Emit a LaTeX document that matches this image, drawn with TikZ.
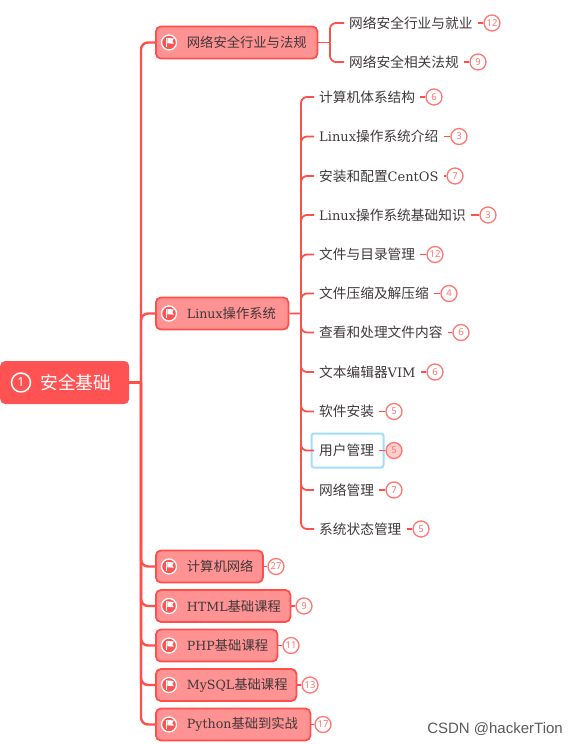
\documentclass[tikz,border=0pt]{standalone}
\usepackage{fontspec}
\setmainfont{DejaVu Serif}[Scale=0.95]
\newfontfamily\zhfont{Noto Sans CJK SC}
\newfontfamily\digfont{Noto Sans}
\newfontfamily\wmfont{Liberation Sans}
\newcommand{\zh}[1]{{\zhfont #1}}
\definecolor{mmred}{HTML}{FF4F4B}
\definecolor{mmfill}{HTML}{FF9292}
\definecolor{mmroot}{HTML}{FF5252}
\definecolor{mmtext}{HTML}{3E383B}
\definecolor{mmsel}{HTML}{9FDFFA}
\definecolor{mmbadge}{HTML}{FF7672}
\tikzset{
  branch/.style={draw=mmred,line width=1.8pt,rounded corners=6pt},
  mainbranch/.style={draw=mmred,line width=2.4pt,rounded corners=7pt},
  stub/.style={draw=mmred,line width=1.5pt},
  mainbox/.style={draw=mmred,fill=mmfill,line width=1.8pt,rounded corners=5pt,inner xsep=0pt,inner ysep=0pt,
    minimum height=32pt,anchor=west,align=left,text=mmtext,font=\fontsize{13.3}{15}\selectfont},
  rootbox/.style={fill=mmroot,rounded corners=5pt,inner sep=0pt,text width=129pt,minimum height=43pt,
    anchor=west,align=left,text=white,font=\fontsize{17.8}{20}\selectfont},
  subtext/.style={anchor=west,inner xsep=5pt,inner ysep=2pt,text=mmtext,font=\fontsize{13.7}{15}\selectfont},
  badge/.style={circle,draw=mmbadge,fill=white,line width=1.3pt,minimum size=16pt,inner sep=0pt,
    text=mmbadge,font=\digfont\fontsize{9.5}{10}\selectfont},
  selbadge/.style={badge,fill=mmbadge!35},
  selbox/.style={draw=mmsel,line width=2pt,rounded corners=2.5pt,minimum width=72pt,minimum height=34pt,anchor=west,inner sep=0pt},
  iconring/.style={circle,draw=white,fill=mmroot,line width=1.3pt,minimum size=15pt,inner sep=0pt},
  rootring/.style={circle,draw=white,line width=1.5pt,minimum size=19pt,inner sep=0pt,text=white,font=\digfont\fontsize{12.5}{12}\selectfont},
  mark note/.style={anchor=east,inner sep=0pt,text=black!65,font=\wmfont\fontsize{15}{17}\selectfont}
}
\newcommand{\mainnode}[4]{%
  \node[mainbox,text width=#3pt] (#1) at (155,#2) {\hspace*{31pt}#4};
  \node[iconring] (#1i) at (169,#2) {};
  \fill[white] ([xshift=-3pt,yshift=-4.6pt]#1i.center) rectangle ([xshift=-1.6pt,yshift=4.6pt]#1i.center);
  \fill[white] ([xshift=-1.6pt,yshift=4.6pt]#1i.center) -- ([xshift=4.8pt,yshift=4pt]#1i.center) -- ([xshift=3.4pt,yshift=1.4pt]#1i.center) -- ([xshift=4.8pt,yshift=-1.2pt]#1i.center) -- ([xshift=-1.6pt,yshift=-.8pt]#1i.center) -- cycle;
}
\newcommand{\subnode}[6]{%
  \node[subtext] (#1) at (#2,#3) {#4};
  \node[badge] (#1b) at (#5,#3) {#6};
  \draw[stub] (#1.east) -- (#1b.west);
}
\begin{document}
\begin{tikzpicture}[x=1pt,y=-1pt]
\useasboundingbox (0,0) rectangle (577,744);
\node[rootbox] (root) at (0,382.5) {\hspace*{40pt}\zh{安全基础}};
\node[rootring] (rooti) at (21,382.5) {1};
\coordinate (hub) at (141,382.5);

\mainnode{net}{42.5}{161.5}{\zh{网络安全行业与法规}}
\mainnode{linux}{313.5}{132.5}{Linux\zh{操作系统}}
\mainnode{cn}{566.5}{107}{\zh{计算机网络}}
\mainnode{html}{606}{134.5}{HTML\zh{基础课程}}
\mainnode{php}{645.5}{121.5}{PHP\zh{基础课程}}
\mainnode{mysql}{685}{140.5}{MySQL\zh{基础课程}}
\mainnode{py}{724.5}{154.5}{Python\zh{基础到实战}}

\draw[mainbranch] (root.east) -- (hub);
\foreach \t in {net,linux,cn,html,php,mysql,py}
  \draw[mainbranch] (hub) -- (hub |- \t.west) -- (\t.west);

\node[badge] (cnb) at (276,566.5) {27};
\node[badge] (htmlb) at (304,606) {9};
\node[badge] (phpb) at (291,645.5) {11};
\node[badge] (mysqlb) at (310,685) {13};
\node[badge] (pyb) at (323,724.5) {17};
\foreach \t in {cn,html,php,mysql,py}
  \draw[stub] (\t.east) -- (\t b.west);

\subnode{na}{344}{23}{\zh{网络安全行业与就业}}{492}{12}
\subnode{nb}{344}{62}{\zh{网络安全相关法规}}{478}{9}
\coordinate (nethub) at (330,42.5);
\draw[branch] (net.east) -- (nethub);
\foreach \t in {na,nb}
  \draw[branch] (nethub) -- (nethub |- \t.west) -- (\t.west);

\node[selbox] (sel) at (310.5,450.5) {};
\subnode{la}{314}{97}{\zh{计算机体系结构}}{434}{6}
\subnode{lb}{314}{136.5}{Linux\zh{操作系统介绍}}{459}{3}
\subnode{lc}{314}{176}{\zh{安装和配置}CentOS}{455}{7}
\subnode{ld}{314}{215}{Linux\zh{操作系统基础知识}}{488}{3}
\subnode{le}{314}{254.5}{\zh{文件与目录管理}}{435}{12}
\subnode{lf}{314}{293.5}{\zh{文件压缩及解压缩}}{449}{4}
\subnode{lg}{314}{332.5}{\zh{查看和处理文件内容}}{461}{6}
\subnode{lh}{314}{372}{\zh{文本编辑器}VIM}{435}{6}
\subnode{li}{314}{411.5}{\zh{软件安装}}{394}{5}
\node[subtext] (lj) at (314,450.5) {\zh{用户管理}};
\node[selbadge] (ljb) at (394,450.5) {5};
\draw[stub] (lj.east) -- (ljb.west);
\subnode{lk}{314}{490}{\zh{网络管理}}{394}{7}
\subnode{ll}{314}{529}{\zh{系统状态管理}}{421}{5}
\coordinate (linuxhub) at (301,313.4);
\draw[branch] (linux.east) -- (linuxhub);
\foreach \t in {la,lb,lc,ld,le,lf,lg,lh,li,lj,lk,ll}
  \draw[branch] (linuxhub) -- (linuxhub |- \t.west) -- (\t.west);

\node[mark note] (wm) at (563,729) {CSDN @hackerTion};
\end{tikzpicture}
\end{document}
